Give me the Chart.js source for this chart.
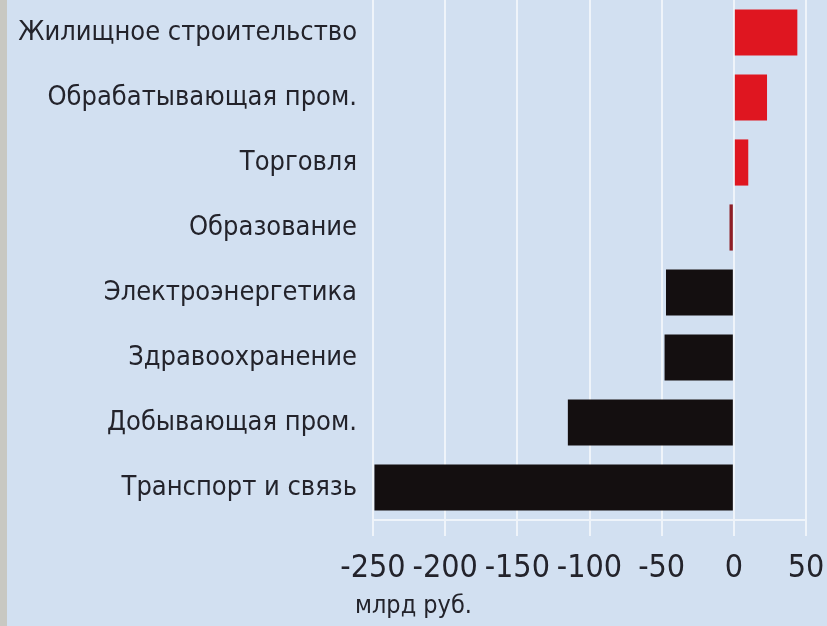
<!DOCTYPE html>
<html>
<head>
<meta charset="utf-8">
<script src="https://cdn.jsdelivr.net/npm/chart.js@4.4.0/dist/chart.umd.min.js"></script>
<style>
  html, body { margin: 0; padding: 0; }
  body { width: 827px; height: 626px; background: #d2e0f1; overflow: hidden; }
  #strip { position: absolute; left: 0; top: 0; width: 7px; height: 626px; background: #c8c8c2; }
  #wrap { position: absolute; left: 7px; top: 0; width: 820px; height: 626px; }
</style>
</head>
<body>
<div id="strip"></div>
<div id="wrap"><canvas id="sectorChart" width="820" height="626"></canvas></div>
<script>
var categories = ['Жилищное строительство', 'Обрабатывающая пром.', 'Торговля', 'Образование',
                  'Электроэнергетика', 'Здравоохранение', 'Добывающая пром.', 'Транспорт и связь'];
var values = [44, 23, 10, -3, -47, -48, -115, -249];
var barColors = ['#df1620', '#df1620', '#df1620', '#8e1f26',
                 '#140f10', '#140f10', '#140f10', '#140f10'];
var xTicks = [-250, -200, -150, -100, -50, 0, 50];
var unitLabel = 'млрд руб.';

var fontName = "'DejaVu Sans Condensed', 'Liberation Sans Narrow', sans-serif";
var textColor = '#23232b';

var unitPlugin = {
    id: 'unitLabel',
    afterDraw(chart) {
        var ctx = chart.ctx;
        var x = chart.scales.x;
        ctx.save();
        ctx.font = '25px ' + fontName;
        ctx.fillStyle = textColor;
        ctx.textBaseline = 'middle';
        ctx.fillText(unitLabel, x.left - 18, 606);
        ctx.restore();
    }
};

var ctx = document.getElementById('sectorChart');
var chart = new Chart(ctx, {
    type: 'bar',
    data: {
        labels: categories,
        datasets: [{
            data: values,
            backgroundColor: barColors,
            borderWidth: 0,
            categoryPercentage: 1,
            barPercentage: 0.71
        }]
    },
    options: {
        indexAxis: 'y',
        responsive: false,
        animation: false,
        devicePixelRatio: 1,
        layout: { padding: { left: 0, right: 21, top: 0, bottom: 0 } },
        plugins: {
            legend: { display: false },
            tooltip: { enabled: false }
        },
        scales: {
            x: {
                min: -250,
                max: 50,
                afterBuildTicks(axis) {
                    axis.ticks = xTicks.map(v => ({ value: v }));
                },
                afterFit(axis) {
                    axis.height = 106;
                    axis.paddingLeft = 0;
                    axis.paddingRight = 0;
                },
                grid: {
                    color: 'rgba(255,255,255,0.65)',
                    lineWidth: 2,
                    tickLength: 16
                },
                border: { display: true, color: 'rgba(255,255,255,0.65)', width: 2 },
                ticks: {
                    color: textColor,
                    font: { family: fontName, size: 32 },
                    padding: 13,
                    maxRotation: 0,
                    autoSkip: false
                }
            },
            y: {
                afterFit(axis) {
                    axis.width = 366;
                    axis.paddingTop = 0;
                    axis.paddingBottom = 0;
                },
                grid: { display: false },
                border: { display: false },
                ticks: {
                    color: textColor,
                    font: { family: fontName, size: 27 },
                    padding: 8
                }
            }
        }
    },
    plugins: [unitPlugin]
});
</script>
</body>
</html>
